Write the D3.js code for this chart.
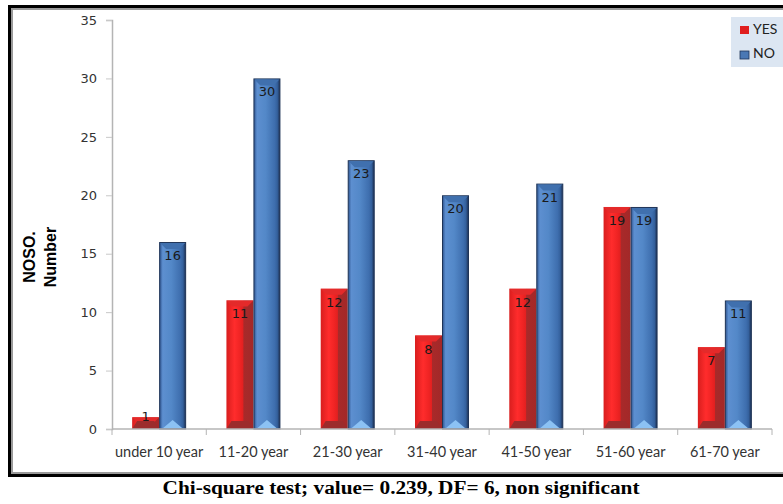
<!DOCTYPE html>
<html>
<head>
<meta charset="utf-8">
<script src="https://cdn.jsdelivr.net/npm/d3@7"></script>
<style>
  body { margin: 0; background: #fff; }
  svg { display: block; }
</style>
</head>
<body>
<svg id="chart" width="783" height="504"></svg>
<script>
// data
const categories = ["under 10 year", "11-20 year", "21-30 year", "31-40 year", "41-50 year", "51-60 year", "61-70 year"];
const seriesNames = ["YES", "NO"];
const yesValues = [1, 11, 12, 8, 12, 19, 7];
const noValues = [16, 30, 23, 20, 21, 19, 11];
const yTicks = [0, 5, 10, 15, 20, 25, 30, 35];
const caption = "Chi-square test; value= 0.239, DF= 6, non significant";

const svg = d3.select("#chart");
const defs = svg.append("defs");

// outer frame: black with a grey inner line (right edge runs off the picture)
svg.append("rect").attr("x", 9.5).attr("y", 6.5).attr("width", 790).attr("height", 469)
    .attr("fill", "#fff").attr("stroke", "#000").attr("stroke-width", 3);
svg.append("rect").attr("x", 12).attr("y", 9).attr("width", 790).attr("height", 464)
    .attr("fill", "none").attr("stroke", "#9a9a9a").attr("stroke-width", 2);

const x = d3.scaleBand().domain(categories).range([112, 772]);
const bw = x.bandwidth();
const xSub = d3.scaleBand().domain(seriesNames).range([bw / 2 - 27, bw / 2 + 27]);
const y = d3.scaleLinear().domain([0, 35]).range([429, 20]);

// gradients for the bevelled bars
const gradRed = defs.append("linearGradient").attr("id", "gRed");
[["0%", "#d81e1e"], ["30%", "#ff2c2c"], ["50%", "#f02424"], ["62%", "#e22020"], ["64%", "#a82a2a"], ["100%", "#a32828"]]
    .forEach(([o, c]) => gradRed.append("stop").attr("offset", o).attr("stop-color", c));
const gradBlue = defs.append("linearGradient").attr("id", "gBlue");
[["0%", "#2f5590"], ["12%", "#5d8fd0"], ["45%", "#5388c8"], ["80%", "#3e6eae"], ["90%", "#34609c"], ["100%", "#1c2f52"]]
    .forEach(([o, c]) => gradBlue.append("stop").attr("offset", o).attr("stop-color", c));

const rows = categories.map((c, i) => ({cat: c, YES: yesValues[i], NO: noValues[i]}));

const groups = svg.selectAll("g.cat")
    .data(rows)
    .join("g")
    .attr("class", "cat")
    .attr("transform", d => `translate(${x(d.cat)},0)`);

function drawBar(sel, key) {
    sel.each(function(d) {
        const g = d3.select(this).append("g");
        const x0 = xSub(key), w = xSub.bandwidth();
        const top = y(d[key]), bot = y(0), h = bot - top;
        const b = Math.min(6, h / 2);
        if (key === "YES") {
            g.append("rect").attr("x", x0).attr("y", top).attr("width", w).attr("height", h)
                .attr("fill", "url(#gRed)");
            // top bevel
            g.append("path").attr("d", `M${x0},${top}L${x0 + w},${top}L${x0 + w - b},${top + b}L${x0 + b},${top + b}Z`)
                .attr("fill", "#e42a2a");
            // bottom bevel
            g.append("path").attr("d", `M${x0},${bot}L${x0 + w},${bot}L${x0 + w - 5},${bot - Math.min(8, h)}L${x0 + 5},${bot - Math.min(8, h)}Z`)
                .attr("fill", "#9c2c2c");
        } else {
            g.append("rect").attr("x", x0 + 0.5).attr("y", top + 0.5).attr("width", w - 1).attr("height", h - 0.5)
                .attr("fill", "url(#gBlue)").attr("stroke", "#1f3457").attr("stroke-width", 1);
            g.append("path").attr("d", `M${x0 + 1},${top + 1}L${x0 + w - 1},${top + 1}L${x0 + w - 1 - b},${top + 1 + b}L${x0 + 1 + b},${top + 1 + b}Z`)
                .attr("fill", "#4070ae");
            g.append("path").attr("d", `M${x0 + 4},${bot - 1}L${x0 + w - 4},${bot - 1}L${x0 + w / 2},${bot - 9}Z`)
                .attr("fill", "#8cc2f4");
        }
        g.append("text")
            .attr("x", x0 + w / 2)
            .attr("y", Math.min(top + 18, bot - 8))
            .attr("text-anchor", "middle")
            .attr("font-family", "DejaVu Sans, sans-serif")
            .attr("font-size", 13)
            .attr("fill", "#1a1a1a")
            .text(d[key]);
    });
}
drawBar(groups, "YES");
drawBar(groups, "NO");

// y axis
const yAxis = svg.append("g")
    .attr("transform", "translate(112,0)")
    .call(d3.axisLeft(y).tickValues(yTicks).tickSize(6).tickPadding(9));
yAxis.select(".domain").attr("stroke", "#b4b4b4").attr("stroke-width", 1.5);
yAxis.selectAll(".tick line").attr("stroke", "#c8c8c8");
yAxis.selectAll("text").attr("font-family", "DejaVu Sans, sans-serif").attr("font-size", 13).attr("fill", "#333");

// x axis: ticks sit between the categories
const xAxisG = svg.append("g").attr("transform", `translate(0,${y(0)})`);
xAxisG.append("line").attr("x1", 112).attr("x2", 772).attr("stroke", "#b4b4b4").attr("stroke-width", 1.5);
xAxisG.selectAll("line.tk")
    .data(categories.concat(["_end"]))
    .join("line")
    .attr("class", "tk")
    .attr("x1", (d, i) => 112 + i * bw).attr("x2", (d, i) => 112 + i * bw)
    .attr("y1", 0).attr("y2", 6)
    .attr("stroke", "#b4b4b4");
xAxisG.selectAll("text")
    .data(categories)
    .join("text")
    .attr("x", d => x(d) + bw / 2)
    .attr("y", 28)
    .attr("text-anchor", "middle")
    .attr("font-family", "Lato, Open Sans, sans-serif")
    .attr("font-size", 14.5)
    .attr("fill", "#333")
    .text(d => d);

// y title
const yTitle = svg.append("g").attr("transform", "translate(0,257) rotate(-90)")
    .attr("font-family", "Liberation Sans, Arial, sans-serif")
    .attr("font-weight", "bold")
    .attr("font-size", 16)
    .attr("text-anchor", "middle")
    .attr("fill", "#000");
yTitle.append("text").attr("x", 0).attr("y", 35).text("NOSO.");
yTitle.append("text").attr("x", 0).attr("y", 56).text("Number");

// legend
const legend = svg.append("g").attr("transform", "translate(731,17)");
legend.append("rect").attr("width", 52).attr("height", 50).attr("fill", "#dce6f2");
const legendColors = {YES: "#e01e1e", NO: "#4a78b4"};
seriesNames.forEach((s, i) => {
    legend.append("rect").attr("x", 9).attr("y", 9 + i * 25).attr("width", 9).attr("height", 8)
        .attr("fill", legendColors[s]).attr("stroke", s === "NO" ? "#1f3457" : "none").attr("stroke-width", 0.8);
    legend.append("text").attr("x", 22).attr("y", 17 + i * 24)
        .attr("font-family", "Lato, Open Sans, sans-serif").attr("font-size", 14).attr("fill", "#222")
        .text(s);
});

// caption
svg.append("text")
    .attr("x", 401).attr("y", 494)
    .attr("text-anchor", "middle")
    .attr("font-family", "Liberation Serif, Times New Roman, serif")
    .attr("font-weight", "bold")
    .attr("font-size", 18.5)
    .attr("textLength", 477)
    .attr("lengthAdjust", "spacingAndGlyphs")
    .attr("fill", "#000")
    .text(caption);
</script>
</body>
</html>
